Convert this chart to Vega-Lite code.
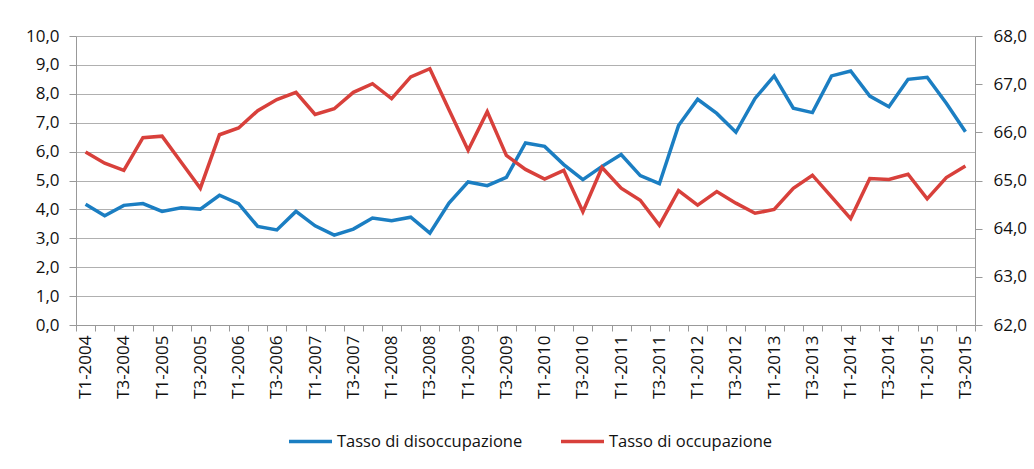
{
  "$schema": "https://vega.github.io/schema/vega-lite/v6.json",
  "width": 899,
  "height": 289,
  "autosize": {"type": "none"},
  "padding": {"left": 76, "top": 36, "right": 59, "bottom": 144},
  "background": "white",
  "config": {"view": {"stroke": null}, "font": "Open Sans"},
  "data": {"values": [
    {"t": "T1-2004", "dis": 4.18, "occ": 65.59},
    {"t": "T2-2004", "dis": 3.78, "occ": 65.36},
    {"t": "T3-2004", "dis": 4.14, "occ": 65.21},
    {"t": "T4-2004", "dis": 4.20, "occ": 65.89},
    {"t": "T1-2005", "dis": 3.93, "occ": 65.92},
    {"t": "T2-2005", "dis": 4.06, "occ": 65.38},
    {"t": "T3-2005", "dis": 4.01, "occ": 64.84},
    {"t": "T4-2005", "dis": 4.49, "occ": 65.95},
    {"t": "T1-2006", "dis": 4.20, "occ": 66.09},
    {"t": "T2-2006", "dis": 3.41, "occ": 66.45},
    {"t": "T3-2006", "dis": 3.29, "occ": 66.68},
    {"t": "T4-2006", "dis": 3.93, "occ": 66.83},
    {"t": "T1-2007", "dis": 3.43, "occ": 66.37},
    {"t": "T2-2007", "dis": 3.11, "occ": 66.49},
    {"t": "T3-2007", "dis": 3.32, "occ": 66.83},
    {"t": "T4-2007", "dis": 3.70, "occ": 67.01},
    {"t": "T1-2008", "dis": 3.61, "occ": 66.70},
    {"t": "T2-2008", "dis": 3.73, "occ": 67.15},
    {"t": "T3-2008", "dis": 3.18, "occ": 67.32},
    {"t": "T4-2008", "dis": 4.22, "occ": 66.47},
    {"t": "T1-2009", "dis": 4.95, "occ": 65.63},
    {"t": "T2-2009", "dis": 4.82, "occ": 66.43},
    {"t": "T3-2009", "dis": 5.11, "occ": 65.52},
    {"t": "T4-2009", "dis": 6.30, "occ": 65.23},
    {"t": "T1-2010", "dis": 6.18, "occ": 65.03},
    {"t": "T2-2010", "dis": 5.55, "occ": 65.21},
    {"t": "T3-2010", "dis": 5.03, "occ": 64.35},
    {"t": "T4-2010", "dis": 5.49, "occ": 65.27},
    {"t": "T1-2011", "dis": 5.90, "occ": 64.84},
    {"t": "T2-2011", "dis": 5.17, "occ": 64.59},
    {"t": "T3-2011", "dis": 4.89, "occ": 64.07},
    {"t": "T4-2011", "dis": 6.90, "occ": 64.79},
    {"t": "T1-2012", "dis": 7.81, "occ": 64.49},
    {"t": "T2-2012", "dis": 7.32, "occ": 64.77},
    {"t": "T3-2012", "dis": 6.67, "occ": 64.53},
    {"t": "T4-2012", "dis": 7.84, "occ": 64.32},
    {"t": "T1-2013", "dis": 8.62, "occ": 64.40},
    {"t": "T2-2013", "dis": 7.50, "occ": 64.84},
    {"t": "T3-2013", "dis": 7.35, "occ": 65.11},
    {"t": "T4-2013", "dis": 8.62, "occ": 64.66},
    {"t": "T1-2014", "dis": 8.79, "occ": 64.21},
    {"t": "T2-2014", "dis": 7.92, "occ": 65.04},
    {"t": "T3-2014", "dis": 7.55, "occ": 65.02},
    {"t": "T4-2014", "dis": 8.50, "occ": 65.13},
    {"t": "T1-2015", "dis": 8.57, "occ": 64.62},
    {"t": "T2-2015", "dis": 7.67, "occ": 65.06},
    {"t": "T3-2015", "dis": 6.69, "occ": 65.30}
  ]},
  "encoding": {
    "x": {
      "field": "t",
      "type": "ordinal",
      "sort": null,
      "bandPosition": 0.5,
      "scale": {"type": "band", "paddingInner": 0, "paddingOuter": 0},
      "axis": {
        "title": null,
        "labelAngle": -90,
        "labelAlign": "right",
        "labelBaseline": "middle",
        "labelFontSize": 17,
        "labelColor": "#111111",
        "labelPadding": 4,
        "labelOverlap": false,
        "tickBand": "extent",
        "tickSize": 6,
        "tickColor": "#999999",
        "domainColor": "#999999",
        "grid": false,
        "labelExpr": "slice(datum.label,0,2)=='T1' || slice(datum.label,0,2)=='T3' ? datum.label : ''"
      }
    }
  },
  "layer": [
    {
      "mark": {"type": "line", "strokeWidth": 3.5},
      "encoding": {
        "y": {
          "field": "dis",
          "type": "quantitative",
          "scale": {"domain": [0, 10], "nice": false},
          "axis": {
            "title": null,
            "values": [0, 1, 2, 3, 4, 5, 6, 7, 8, 9, 10],
            "labelExpr": "replace(format(datum.value,'.1f'),'.',',')",
            "labelFontSize": 17,
            "labelColor": "#111111",
            "tickSize": 7,
            "labelPadding": 10,
            "tickColor": "#999999",
            "domainColor": "#999999",
            "grid": true,
            "gridColor": "#b0b0b0",
            "gridWidth": 1
          }
        },
        "color": {
          "datum": "Tasso di disoccupazione",
          "type": "nominal",
          "scale": {
            "domain": ["Tasso di disoccupazione", "Tasso di occupazione"],
            "range": ["#1b7ec2", "#d8403b"]
          },
          "legend": {
            "orient": "none",
            "legendX": 211,
            "legendY": 382,
            "direction": "horizontal",
            "title": null,
            "symbolType": "stroke",
            "symbolStrokeWidth": 3.5,
            "symbolSize": 1849,
            "labelFontSize": 16.5,
            "labelColor": "#111111",
            "labelOffset": 3,
            "labelLimit": 400,
            "columnPadding": 31
          }
        }
      }
    },
    {
      "mark": {"type": "line", "strokeWidth": 3.5},
      "encoding": {
        "y": {
          "field": "occ",
          "type": "quantitative",
          "scale": {"domain": [62, 68], "nice": false, "zero": false},
          "axis": {
            "orient": "right",
            "title": null,
            "values": [62, 63, 64, 65, 66, 67, 68],
            "labelExpr": "replace(format(datum.value,'.1f'),'.',',')",
            "labelFontSize": 17,
            "labelColor": "#111111",
            "tickSize": 7,
            "labelPadding": 11,
            "tickColor": "#999999",
            "domainColor": "#999999",
            "grid": false
          }
        },
        "color": {"datum": "Tasso di occupazione", "type": "nominal"}
      }
    }
  ],
  "resolve": {"scale": {"y": "independent"}}
}
